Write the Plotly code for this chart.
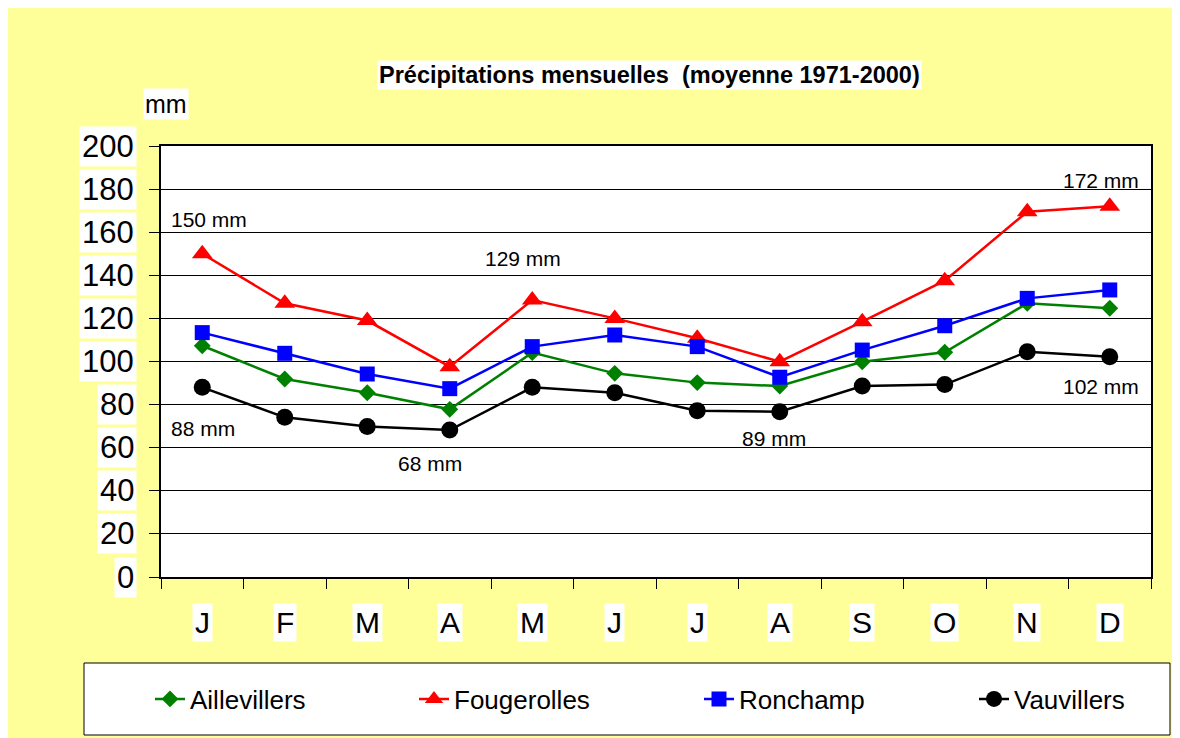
import plotly.graph_objects as go

# monthly precipitation (mm), mean 1971-2000
months = ["J", "F", "M", "A", "M", "J", "J", "A", "S", "O", "N", "D"]
aillevillers = [107.3, 91.9, 85.5, 77.8, 104.1, 94.5, 90.2, 88.6, 99.9, 104.3, 127.0, 124.7]
fougerolles = [150.0, 127.0, 119.0, 97.6, 128.5, 120.0, 110.8, 99.9, 118.5, 137.5, 169.5, 172.0]
ronchamp = [113.4, 103.8, 94.2, 87.4, 106.9, 112.3, 106.9, 92.7, 105.3, 116.6, 129.3, 133.2]
vauvillers = [88.0, 74.1, 69.8, 68.2, 88.0, 85.5, 77.2, 76.7, 88.6, 89.3, 104.5, 102.2]

y_ticks = [0, 20, 40, 60, 80, 100, 120, 140, 160, 180, 200]

# (text, month index, value) for the callouts
callouts = [
    ("150 mm", 0.08, 165.7),
    ("129 mm", 3.89, 148.0),
    ("88 mm", 0.01, 69.1),
    ("68 mm", 2.76, 52.9),
    ("89 mm", 6.93, 64.5),
    ("172 mm", 10.89, 184.2),
    ("102 mm", 10.89, 88.2),
]

FONT = "Arial, Liberation Sans, sans-serif"
OFF = 8  # page body margin
W, H = 1180 - OFF, 738 - OFF
L, R, T, B = 161 - OFF, 29, 146 - OFF, 161
PW, PH = W - L - R, H - T - B


def px_x(p):
    # screen pixel -> paper fraction
    return (p - 161) / PW


def px_y(p):
    return (577 - p) / PH


series = [
    ("Aillevillers", aillevillers, "#008000", "diamond", 13, 192),
    ("Fougerolles", fougerolles, "#FF0000", "triangle-up", 18, 456),
    ("Ronchamp", ronchamp, "#0000FF", "square", 15, 741),
    ("Vauvillers", vauvillers, "#000000", "circle", 17, 1016),
]

x = list(range(len(months)))

fig = go.Figure()
legends = {}
for k, (name, vals, color, symbol, size, text_x) in enumerate(series):
    key = "legend" if k == 0 else f"legend{k + 1}"
    fig.add_trace(go.Scatter(
        x=x, y=vals,
        mode="lines+markers",
        name=name,
        line=dict(color=color, width=2.5),
        marker=dict(symbol=symbol, size=size, color=color),
        cliponaxis=False,
        legend=key,
    ))
    legends[key] = dict(
        x=px_x(text_x - 42), y=px_y(699), xanchor="left", yanchor="middle",
        bgcolor="rgba(0,0,0,0)", borderwidth=0,
        font=dict(size=26, color="black", family=FONT),
        itemsizing="trace",
    )

annotations = []
# title and unit
annotations.append(dict(
    text="<b>Précipitations mensuelles &nbsp;(moyenne 1971-2000)</b>",
    xref="paper", yref="paper", x=px_x(649), y=px_y(75),
    xanchor="center", yanchor="middle",
    showarrow=False, bgcolor="white", borderpad=1,
    font=dict(size=23.5, color="black", family=FONT),
))
annotations.append(dict(
    text="mm", xref="paper", yref="paper", x=px_x(166), y=px_y(104),
    xanchor="center", yanchor="middle",
    showarrow=False, bgcolor="white", borderpad=1,
    font=dict(size=25, color="black", family=FONT),
))
# y tick labels with white boxes
for v in y_ticks:
    annotations.append(dict(
        text=str(v), xref="paper", yref="y", x=px_x(137), y=v,
        xanchor="right", yanchor="middle",
        showarrow=False, bgcolor="white", borderpad=2,
        font=dict(size=31, color="black", family=FONT),
    ))
# x tick labels with white boxes
for i, m in enumerate(months):
    annotations.append(dict(
        text=m, xref="x", yref="paper", x=i, y=px_y(622),
        xanchor="center", yanchor="middle",
        showarrow=False, bgcolor="white", borderpad=2,
        font=dict(size=30, color="black", family=FONT),
    ))
# value callouts
for txt, xi, yv in callouts:
    annotations.append(dict(
        text=txt, xref="x", yref="y", x=xi, y=yv,
        xanchor="center", yanchor="middle",
        showarrow=False,
        font=dict(size=21, color="black", family=FONT),
    ))

shapes = [
    # white plot area
    dict(type="rect", xref="paper", yref="paper", layer="below",
         x0=0, x1=1, y0=0, y1=1, fillcolor="white", line=dict(width=0)),
    # legend box
    dict(type="rect", xref="paper", yref="paper", layer="below",
         x0=px_x(84), x1=px_x(1170), y0=px_y(735), y1=px_y(663),
         fillcolor="white", line=dict(color="black", width=1)),
]

fig.update_layout(
    width=W, height=H,
    margin=dict(l=L, r=R, t=T, b=B),
    paper_bgcolor="#FFFF99",
    plot_bgcolor="white",
    font=dict(family=FONT, color="black"),
    showlegend=True,
    xaxis=dict(
        range=[-0.5, 11.5],
        tickvals=[i - 0.5 for i in range(13)],
        showticklabels=False,
        ticks="outside", ticklen=10, tickcolor="black", tickwidth=1,
        showgrid=False, zeroline=False,
        showline=True, linecolor="black", linewidth=2, mirror=True,
    ),
    yaxis=dict(
        range=[0, 200],
        tickvals=y_ticks,
        showticklabels=False,
        ticks="outside", ticklen=10, tickcolor="black", tickwidth=1,
        showgrid=True, gridcolor="black", gridwidth=1,
        zeroline=False,
        showline=True, linecolor="black", linewidth=2, mirror=True,
    ),
    annotations=annotations,
    shapes=shapes,
    **legends,
)

fig.write_html("out.html")
